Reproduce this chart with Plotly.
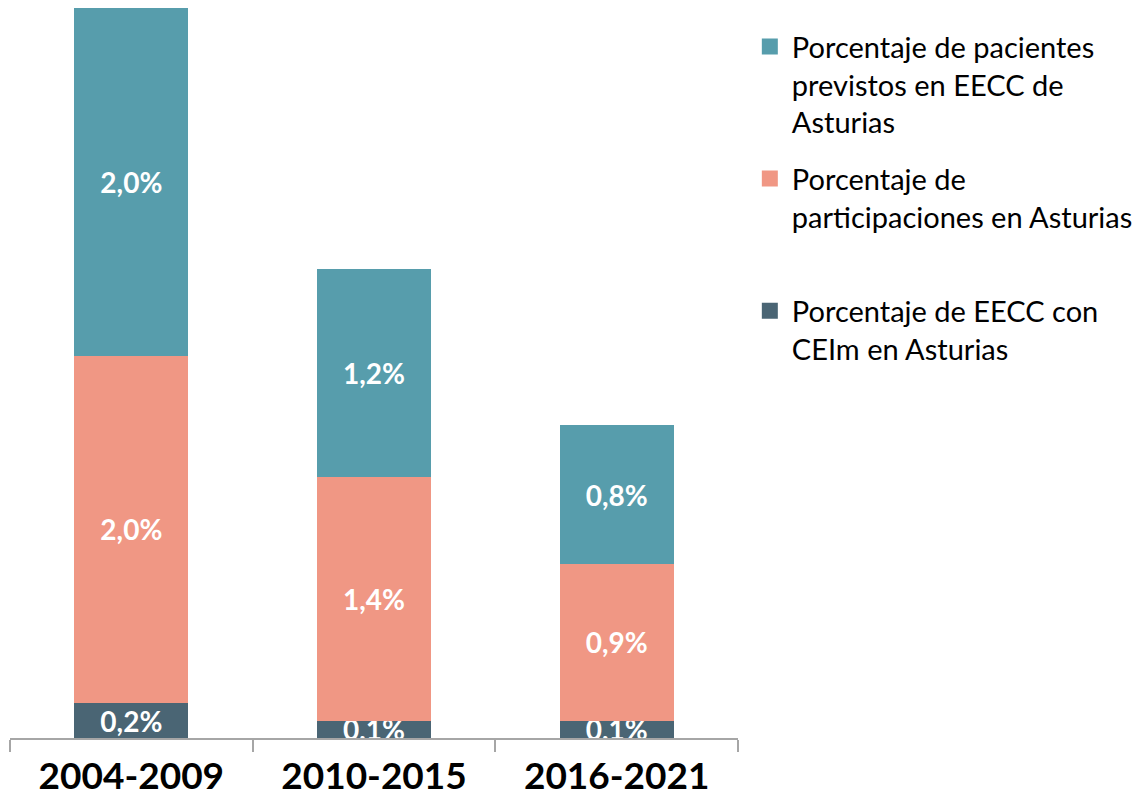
import plotly.graph_objects as go

periods = ["2004-2009", "2010-2015", "2016-2021"]
eecc_ceim = [0.2, 0.1, 0.1]
participaciones = [2.0, 1.4, 0.9]
pacientes = [2.0, 1.2, 0.8]

# name, values, colour, legend rank (top of stack first in legend)
series = [
    ("Porcentaje de EECC con<br>CEIm en Asturias", eecc_ceim, "#4a6574", 3),
    ("Porcentaje de<br>participaciones en Asturias<br> ", participaciones, "#f09784", 2),
    ("Porcentaje de pacientes<br>previstos en EECC de<br>Asturias", pacientes, "#579dac", 1),
]

FONT = "Lato, 'Open Sans', sans-serif"

fig = go.Figure()
for i, (name, vals, color, rank) in enumerate(series):
    fig.add_trace(
        go.Bar(
            x=periods,
            y=vals,
            name=name,
            showlegend=False,
            marker=dict(color=color, line=dict(width=0)),
            text=[f"{v:.1f}%".replace(".", ",") for v in vals],
            textposition="inside",
            insidetextanchor="middle",
            textangle=0,
            textfont=dict(family=FONT, size=28, color="white", weight="bold"),
            cliponaxis=True,
        )
    )
    # legend-only entry so the swatch can be a bigger square
    fig.add_trace(
        go.Scatter(
            x=[None],
            y=[None],
            mode="markers",
            name=name,
            legendgroup=f"g{i}",
            legendrank=rank,
            marker=dict(symbol="square", size=16, color=color),
        )
    )

# the page body adds an 8px offset, so margins are trimmed by that much
fig.update_layout(
    barmode="stack",
    bargap=0.53,
    width=1144,
    height=801,
    margin=dict(l=2, r=414, t=0, b=71, autoexpand=False),
    plot_bgcolor="white",
    paper_bgcolor="white",
    font=dict(family=FONT, color="black"),
    uniformtext=dict(mode="show", minsize=28),
    showlegend=True,
    legend=dict(
        x=1.0135,
        y=0.982,
        xanchor="left",
        yanchor="top",
        traceorder="grouped",
        tracegroupgap=16,
        valign="top",
        font=dict(family=FONT, size=29, color="black"),
        itemwidth=34,
    ),
    xaxis=dict(
        showline=True,
        linecolor="#a6a6a6",
        linewidth=2,
        ticks="outside",
        tickson="boundaries",
        ticklen=12,
        tickwidth=2,
        tickcolor="#a6a6a6",
        ticklabelstandoff=5,
        tickfont=dict(family=FONT, size=37, color="black", weight="bold"),
        showgrid=False,
    ),
    yaxis=dict(
        range=[0, 4.2],
        visible=False,
        showgrid=False,
        zeroline=False,
    ),
)

fig.write_html("out.html")
